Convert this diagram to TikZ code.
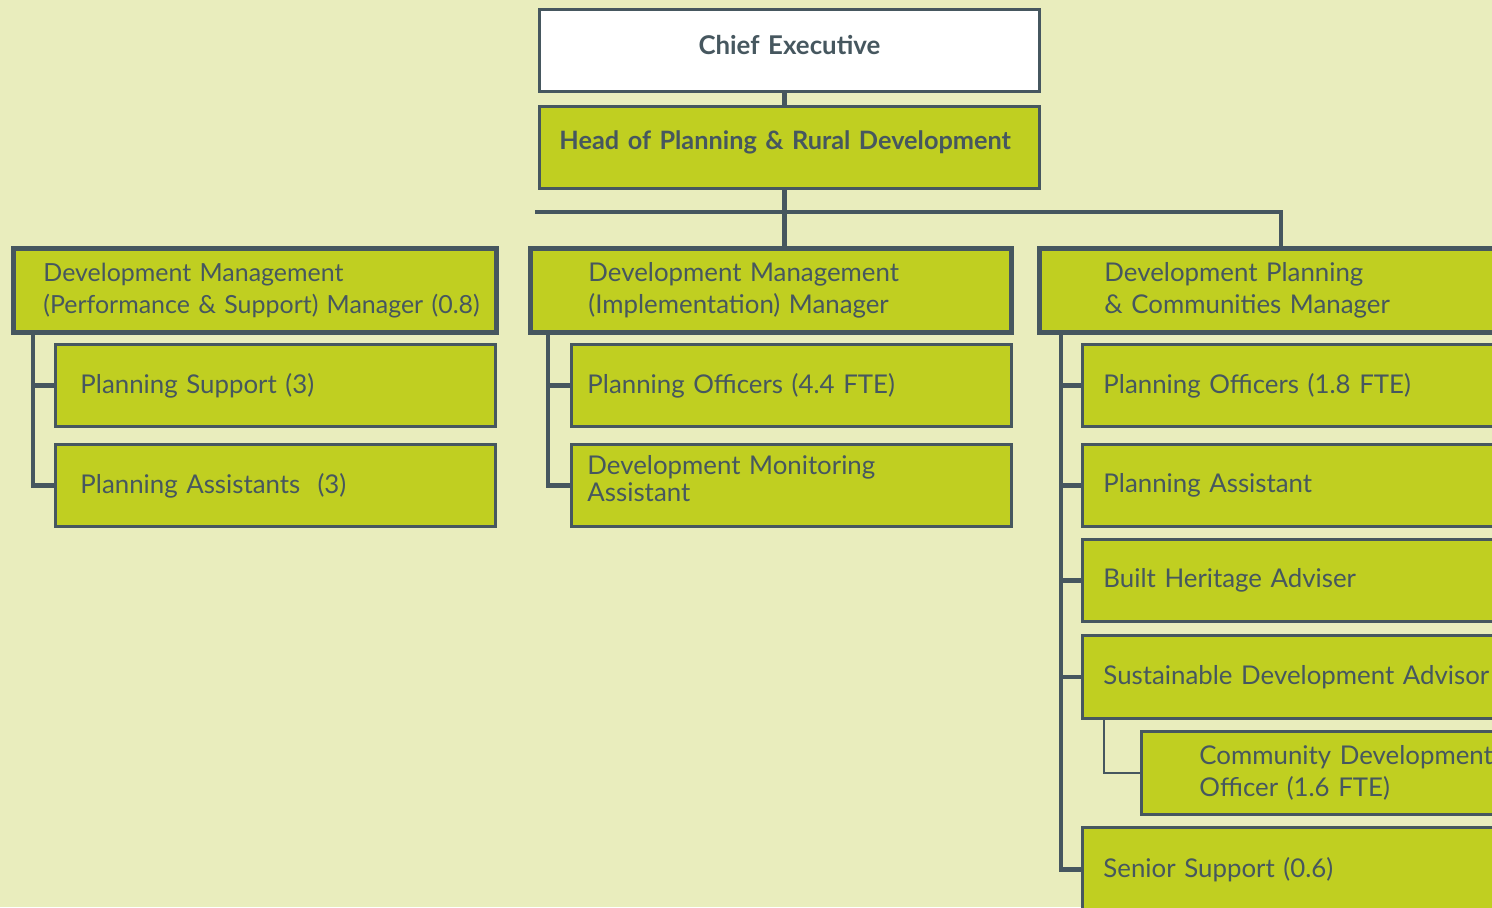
\documentclass[tikz,border=0pt]{standalone}
\usepackage{fontspec}
\setmainfont{Lato}[WordSpace=0.7]
\usetikzlibrary{positioning}

\definecolor{slate}{HTML}{46575F}
\definecolor{lime}{HTML}{C0CF21}
\definecolor{paper}{HTML}{E9EDBD}

\begin{document}
\begin{tikzpicture}[
    x=0.02cm, y=-0.02cm,
    every node/.style={text=slate, font=\fontsize{14.7}{18.1}\selectfont},
    box/.style={rectangle, draw=slate, fill=lime, line width=1.7pt, anchor=north west,
                minimum height=1.64cm, inner ysep=0pt, align=left},
    mgr/.style={box, line width=2.8pt, minimum height=1.68cm},
    link/.style={draw=slate, line width=2.8pt},
    thinlink/.style={draw=slate, line width=1.1pt}
]

    \useasboundingbox (0,0) rectangle (1492,907);
    \fill[paper] (0,0) rectangle (1492,907);
    \clip (0,0) rectangle (1492,907);

    % Top of the chart
    \node[box, fill=white, text width=10cm, inner xsep=0pt, align=center,
          font=\fontsize{14.7}{18}\selectfont\bfseries] (ce) at (538,8) {Chief Executive\par\vspace{6pt}};
    \node[box, text width=9.2cm, inner xsep=0.4cm,
          font=\fontsize{14.4}{18}\selectfont\bfseries] (head) at (538,105) {Head of Planning \& Rural Development\par\vspace{6pt}};

    % Managers
    \node[mgr, text width=8.46cm, inner xsep=0.6cm, font=\fontsize{14.2}{18.1}\selectfont] (dmps) at (11,246)
        {Development Management\\\mbox{(Performance \& Support) Manager (0.8)}};
    \node[mgr, text width=7.3cm, inner xsep=1.16cm] (dmi) at (528,246)
        {Development Management\\(Implementation) Manager};
    \node[mgr, text width=8.6cm, inner xsep=1.3cm] (dpc) at (1037,246)
        {Development Planning\\\& Communities Manager};

    % Performance & Support team
    \node[box, text width=7.8cm, inner xsep=0.5cm] (ps) at (54,343) {Planning Support (3)};
    \node[box, text width=7.8cm, inner xsep=0.5cm] (pa) at (54,443) {Planning Assistants~~(3)};

    % Implementation team
    \node[box, text width=8.16cm, inner xsep=0.32cm] (po) at (570,343) {Planning Officers (4.4 FTE)};
    \node[box, text width=8.16cm, inner xsep=0.32cm, font=\fontsize{14.7}{15}\selectfont] (dma) at (570,443)
        {Development Monitoring\\Assistant\par\vspace{8pt}};

    % Development Planning team
    \node[box, text width=9.6cm, inner xsep=0.42cm] (pof) at (1081,343) {Planning Officers (1.8 FTE)};
    \node[box, text width=9.6cm, inner xsep=0.42cm] (pas) at (1081,443) {Planning Assistant};
    \node[box, text width=9.6cm, inner xsep=0.42cm] (bha) at (1081,538) {Built Heritage Adviser};
    \node[box, text width=9.6cm, inner xsep=0.42cm, minimum height=1.66cm] (sda) at (1081,634) {Sustainable Development Advisor};
    \node[box, text width=7.2cm, inner xsep=1.16cm, minimum height=1.66cm] (cdo) at (1140,730) {Community Development\\Officer (1.6 FTE)};
    \node[box, text width=9.6cm, inner xsep=0.42cm, minimum height=1.68cm] (ss) at (1081,826) {Senior Support (0.6)};

    % Lines
    \coordinate (barL) at (535,212);
    \coordinate (barR) at (1281,212);
    \draw[link] (ce.south) ++(-5,0) coordinate (sp1) -- (sp1 |- head.north);
    \draw[link] (head.south) ++(-5,0) coordinate (sp2) -- (sp2 |- dmi.north);
    \draw[link] (barL) -- (barR) -- (barR |- dpc.north);

    \draw[link] (dmps.south west) ++(22,0) |- (ps.west);
    \draw[link] (dmps.south west) ++(22,0) |- (pa.west);

    \draw[link] (dmi.south west) ++(20,0) |- (po.west);
    \draw[link] (dmi.south west) ++(20,0) |- (dma.west);

    \draw[link] (dpc.south west) ++(24,0) |- (pof.west);
    \draw[link] (dpc.south west) ++(24,0) |- (pas.west);
    \draw[link] (dpc.south west) ++(24,0) |- (bha.west);
    \draw[link] (dpc.south west) ++(24,0) |- (sda.west);
    \draw[link] (dpc.south west) ++(24,0) |- (ss.west);
    \draw[thinlink] (sda.south west) ++(23,0) |- (cdo.west);

\end{tikzpicture}
\end{document}
